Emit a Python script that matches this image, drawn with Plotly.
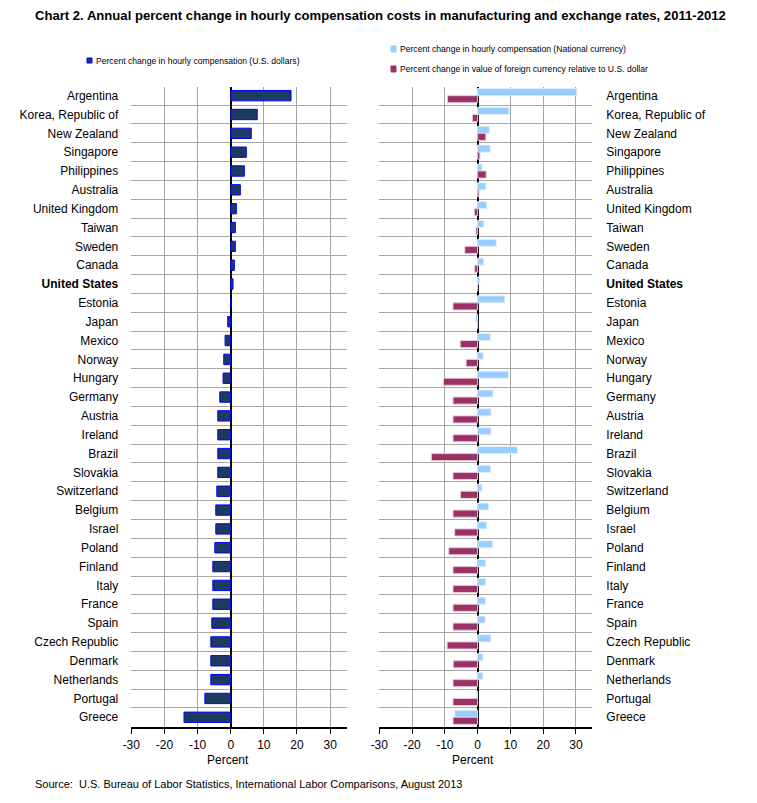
import plotly.graph_objects as go

countries = ["Argentina", "Korea, Republic of", "New Zealand", "Singapore", "Philippines",
             "Australia", "United Kingdom", "Taiwan", "Sweden", "Canada", "United States",
             "Estonia", "Japan", "Mexico", "Norway", "Hungary", "Germany", "Austria",
             "Ireland", "Brazil", "Slovakia", "Switzerland", "Belgium", "Israel", "Poland",
             "Finland", "Italy", "France", "Spain", "Czech Republic", "Denmark",
             "Netherlands", "Portugal", "Greece"]

usd_change = [18.2, 8.0, 6.2, 4.7, 4.1, 2.9, 1.7, 1.4, 1.4, 1.1, 0.7,
              0.0, -0.9, -1.7, -2.1, -2.3, -3.3, -3.9, -3.9, -3.9, -3.9, -4.2,
              -4.5, -4.5, -4.8, -5.4, -5.4, -5.4, -5.7, -6.0, -6.0, -6.0, -7.8, -14.1]

national_change = [30.3, 9.6, 3.6, 3.9, 1.3, 2.5, 2.8, 1.9, 5.7, 1.9, 0.7,
                   8.3, -0.6, 3.9, 1.7, 9.4, 4.7, 4.1, 4.1, 12.2, 4.0, 1.3,
                   3.4, 2.8, 4.6, 2.5, 2.5, 2.4, 2.3, 4.0, 1.6, 1.6, -0.3, -7.0]

fx_change = [-9.2, -1.6, 2.5, 0.7, 2.6, 0.4, -1.0, -0.5, -3.9, -0.9, 0.0,
             -7.5, 0.0, -5.3, -3.5, -10.4, -7.5, -7.5, -7.5, -14.1, -7.5, -5.2,
             -7.5, -7.0, -8.8, -7.5, -7.5, -7.5, -7.5, -9.3, -7.4, -7.5, -7.5, -7.5]

x_ticks = [-30, -20, -10, 0, 10, 20, 30]
x_ticktext = ["-30", "-20", "-10", "0", "10", "20", "30"]
grid_ticks = [-20, -10, 10, 20, 30]

legend_usd = "Percent change in hourly compensation (U.S. dollars)"
legend_nat = "Percent change in hourly compensation (National currency)"
legend_fx = "Percent change in value of foreign currency relative to U.S. dollar"

W, H = 757, 803
FONT = "Liberation Sans, Arial, sans-serif"


def px(v):
    return v / W


def py(v):
    return 1 - v / H


ticktext = ["<b>United States</b>" if c == "United States" else c for c in countries]

fig = go.Figure()
fig.add_trace(go.Bar(y=countries, x=usd_change, orientation="h", xaxis="x", yaxis="y",
                     width=0.55, name=legend_usd,
                     marker=dict(color="#1F3A5F", line=dict(color="#0000FF", width=1))))
fig.add_trace(go.Bar(y=countries, x=national_change, orientation="h", xaxis="x2", yaxis="y2",
                     name=legend_nat,
                     marker=dict(color="#99CCFF", line=dict(color="#E4EEF8", width=1))))
fig.add_trace(go.Bar(y=countries, x=fx_change, orientation="h", xaxis="x2", yaxis="y2",
                     name=legend_fx,
                     marker=dict(color="#993366", line=dict(color="#E6C6D6", width=1))))
# empty traces to host the gridline overlay axes
fig.add_trace(go.Scatter(x=[], y=[], xaxis="x3", yaxis="y", showlegend=False, hoverinfo="skip"))
fig.add_trace(go.Scatter(x=[], y=[], xaxis="x4", yaxis="y2", showlegend=False, hoverinfo="skip"))

xdom1 = [px(131.3), px(346.7)]
xdom2 = [px(379.3), px(592.3)]
ydom = [py(726.7), py(87)]
xr = [-30, 35]

xbase = dict(range=xr, tickmode="array", tickvals=x_ticks, ticktext=x_ticktext, showgrid=False,
             zeroline=True, zerolinecolor="#000000", zerolinewidth=1.5,
             showline=True, linecolor="#000000", linewidth=1.5,
             ticks="outside", ticklen=6, tickcolor="#000000", tickwidth=1,
             tickfont=dict(family=FONT, size=12, color="#000000"),
             automargin=False, fixedrange=True)
xgrid = dict(range=xr, tickmode="array", tickvals=grid_ticks, showgrid=True,
             gridcolor="#A6A6A6", gridwidth=1, showticklabels=False, ticks="",
             showline=False, zeroline=False, automargin=False, fixedrange=True)

ybase = dict(type="category", categoryorder="array", categoryarray=countries,
             range=[33.5, -0.46], tickmode="array", tickvals=countries, ticktext=ticktext,
             tickson="boundaries", showgrid=True, gridcolor="#A6A6A6", gridwidth=1,
             ticks="", showline=False, zeroline=False,
             tickfont=dict(family=FONT, size=12, color="#000000"),
             automargin=False, fixedrange=True)

fig.update_layout(
    width=W, height=H,
    margin=dict(l=0, r=0, t=0, b=0),
    paper_bgcolor="white", plot_bgcolor="white",
    barmode="group", bargap=0.25,
    showlegend=False,
    font=dict(family=FONT, color="#000000"),
    xaxis=dict(domain=xdom1, anchor="y", **xbase),
    xaxis2=dict(domain=xdom2, anchor="y2", **xbase),
    xaxis3=dict(overlaying="x", anchor="y", **xgrid),
    xaxis4=dict(overlaying="x2", anchor="y2", **xgrid),
    yaxis=dict(domain=ydom, anchor="x", side="left", ticklabelstandoff=12, **ybase),
    yaxis2=dict(domain=ydom, anchor="x2", side="right", ticklabelstandoff=13, **ybase),
)

annotations = [
    dict(text="<b>Chart 2. Annual percent change in hourly compensation costs in manufacturing and exchange rates, 2011-2012</b>",
         x=px(380), y=py(16), xanchor="center", yanchor="middle",
         font=dict(family=FONT, size=13.1, color="#000000")),
    dict(text=legend_usd, x=px(94), y=py(61), xanchor="left", yanchor="middle",
         font=dict(family=FONT, size=8.6, color="#000000")),
    dict(text=legend_nat, x=px(398), y=py(49), xanchor="left", yanchor="middle",
         font=dict(family=FONT, size=8.6, color="#000000")),
    dict(text=legend_fx, x=px(398), y=py(69), xanchor="left", yanchor="middle",
         font=dict(family=FONT, size=8.6, color="#000000")),
    dict(text="Percent", x=px(228), y=py(760), xanchor="center", yanchor="middle",
         font=dict(family=FONT, size=12, color="#000000")),
    dict(text="Percent", x=px(473), y=py(760), xanchor="center", yanchor="middle",
         font=dict(family=FONT, size=12, color="#000000")),
    dict(text="Source:  U.S. Bureau of Labor Statistics, International Labor Comparisons, August 2013",
         x=px(33), y=py(784), xanchor="left", yanchor="middle",
         font=dict(family=FONT, size=11, color="#000000")),
]
for a in annotations:
    a.update(xref="paper", yref="paper", showarrow=False)
fig.update_layout(annotations=annotations)

squares = [
    (87, 58, 92, 63, "#1F3A5F", "#0000FF"),
    (391, 46, 396, 52, "#99CCFF", "#99CCFF"),
    (391, 66, 396, 72, "#993366", "#993366"),
]
fig.update_layout(shapes=[
    dict(type="rect", xref="paper", yref="paper", x0=px(a), x1=px(c), y0=py(b), y1=py(d),
         fillcolor=f, line=dict(color=l, width=1))
    for a, b, c, d, f, l in squares
])

fig.write_html("out.html", config={"displayModeBar": False},
               post_script="document.body.style.margin='0';document.body.style.padding='0';")
